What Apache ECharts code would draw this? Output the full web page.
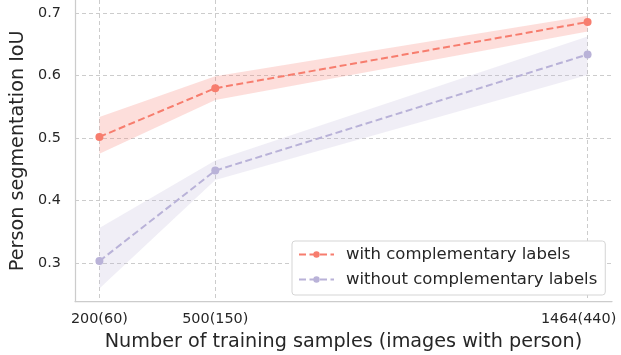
<!DOCTYPE html>
<html>
<head>
<meta charset="utf-8">
<script src="https://cdn.jsdelivr.net/npm/echarts@6/dist/echarts.min.js"></script>
<style>html,body{margin:0;padding:0;background:#fff}#c{width:621px;height:355px}</style>
</head>
<body>
<div id="c"></div>
<script>
// ---- data ----
const samples = [200, 500, 1464];
const tickLabels = ['200(60)', '500(150)', '1464(440)'];
const yTicks = [0.3, 0.4, 0.5, 0.6, 0.7];
const seriesNames = ['with complementary labels', 'without complementary labels'];
const withMean = [0.502, 0.580, 0.686];
const withLower = [0.475, 0.561, 0.671];
const withUpper = [0.534, 0.599, 0.696];
const withoutMean = [0.303, 0.448, 0.634];
const withoutLower = [0.259, 0.433, 0.601];
const withoutUpper = [0.356, 0.464, 0.663];

const RED = '#f77d6e', PURPLE = '#b9b2d8';
const FONT = 'DejaVu Sans';
const TXT = '#262626';

function pairs(ys) { return samples.map((x, i) => [x, ys[i]]); }

function band(name, lo, hi, color, op) {
  return {
    name: name, type: 'custom', silent: true, z: 1,
    data: samples.map((x, i) => [x, lo[i], hi[i]]),
    encode: { x: 0, y: [1, 2] },
    renderItem: function (params, api) {
      if (params.dataIndex !== 0) return;
      const top = samples.map((x, i) => api.coord([x, hi[i]]));
      const bot = samples.map((x, i) => api.coord([x, lo[i]])).reverse();
      return {
        type: 'polygon',
        shape: { points: top.concat(bot) },
        style: { fill: color, opacity: op }
      };
    }
  };
}

const chart = echarts.init(document.getElementById('c'), null, { renderer: 'canvas' });
chart.setOption({
  animation: false,
  textStyle: { fontFamily: FONT },
  grid: { left: 75, right: 9, top: 0, bottom: 53.5, containLabel: false, outerBoundsMode: 'none' },
  legend: {
    data: seriesNames,
    orient: 'vertical',
    left: 292, top: 241,
    padding: [5, 8, 7, 6],
    itemWidth: 35, itemHeight: 8, itemGap: 8,
    backgroundColor: '#fff',
    borderColor: '#d5d5d5', borderWidth: 1, borderRadius: 3,
    textStyle: { fontFamily: FONT, fontSize: 16.5, color: TXT, padding: [0, 0, 0, 7], lineHeight: 16 }
  },
  xAxis: {
    type: 'value', min: 136.8, max: 1527.2,
    name: 'Number of training samples (images with person)',
    nameLocation: 'middle', nameGap: 31,
    nameTextStyle: { fontFamily: FONT, fontSize: 19.2, color: TXT },
    axisLine: { show: true, lineStyle: { color: '#cccccc', width: 1.25 } },
    axisTick: { show: false, customValues: samples },
    axisLabel: { customValues: samples, margin: 11, fontSize: 14.4, color: TXT, fontFamily: FONT,
      hideOverlap: false,
      formatter: v => {
        const i = samples.indexOf(v);
        return i === samples.length - 1 ? '{r|' + tickLabels[i] + '}' : tickLabels[i];
      },
      rich: { r: { fontSize: 14.4, fontFamily: FONT, color: TXT, padding: [0, 18, 0, 0] } } },
    splitLine: { show: true, lineStyle: { color: '#cccccc', type: [4, 3], width: 1 } }
  },
  yAxis: {
    type: 'value', min: 0.2383, max: 0.7213,
    name: 'Person segmentation IoU',
    nameLocation: 'middle', nameGap: 43,
    nameTextStyle: { fontFamily: FONT, fontSize: 19.2, color: TXT },
    axisLine: { show: true, lineStyle: { color: '#cccccc', width: 1.25 } },
    axisTick: { show: false, customValues: yTicks },
    axisLabel: { customValues: yTicks, margin: 14, fontSize: 14.4, color: TXT, fontFamily: FONT,
      formatter: v => v.toFixed(1) },
    splitLine: { show: true, lineStyle: { color: '#cccccc', type: [4, 3], width: 1 } }
  },
  series: [
    band('red_band', withLower, withUpper, RED, 0.25),
    band('pur_band', withoutLower, withoutUpper, PURPLE, 0.22),
    { name: seriesNames[0], type: 'line', data: pairs(withMean), color: RED,
      symbol: 'circle', symbolSize: 8, z: 5,
      lineStyle: { color: RED, width: 2, type: [7, 3.5] }, itemStyle: { color: RED } },
    { name: seriesNames[1], type: 'line', data: pairs(withoutMean), color: PURPLE,
      symbol: 'circle', symbolSize: 8, z: 5,
      lineStyle: { color: PURPLE, width: 2, type: [7, 3.5] }, itemStyle: { color: PURPLE } }
  ]
});
</script>
</body>
</html>
